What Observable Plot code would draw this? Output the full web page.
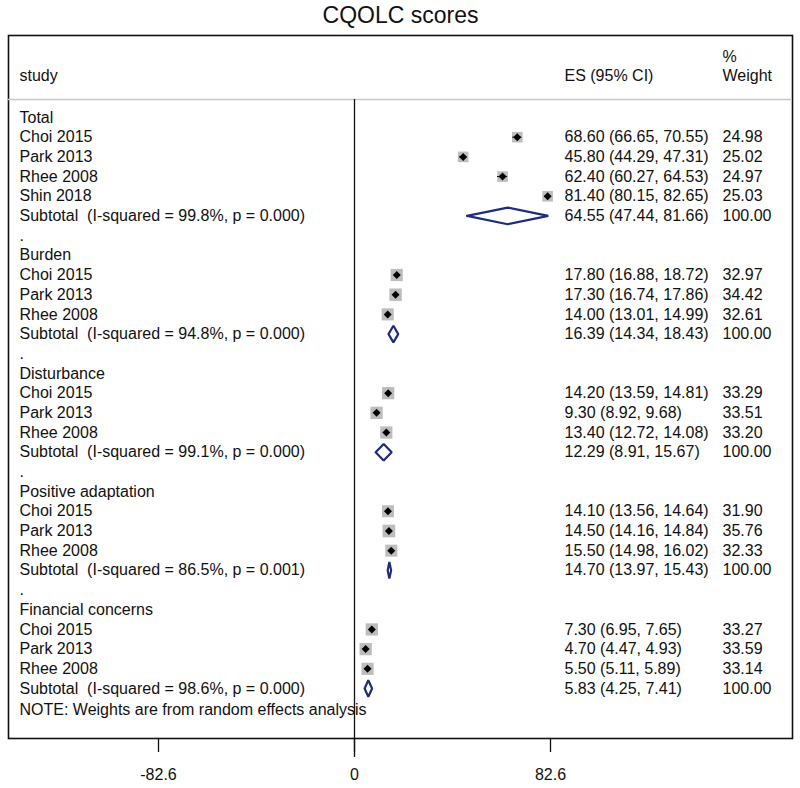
<!DOCTYPE html>
<html>
<head>
<meta charset="utf-8">
<script src="https://cdn.jsdelivr.net/npm/d3@7"></script>
<script src="https://cdn.jsdelivr.net/npm/@observablehq/plot@0.6"></script>
<style>
  html, body { margin: 0; padding: 0; background: #fff; }
  svg text { white-space: pre; }
</style>
</head>
<body>
<div id="chart"></div>
<script>
// ---- data ----
const outcomes = ["Total", "Burden", "Disturbance", "Positive adaptation", "Financial concerns"];
const studies = [
  ["Choi 2015", "Park 2013", "Rhee 2008", "Shin 2018"],
  ["Choi 2015", "Park 2013", "Rhee 2008"],
  ["Choi 2015", "Park 2013", "Rhee 2008"],
  ["Choi 2015", "Park 2013", "Rhee 2008"],
  ["Choi 2015", "Park 2013", "Rhee 2008"]
];
const es = [
  [68.60, 45.80, 62.40, 81.40],
  [17.80, 17.30, 14.00],
  [14.20, 9.30, 13.40],
  [14.10, 14.50, 15.50],
  [7.30, 4.70, 5.50]
];
const lo = [
  [66.65, 44.29, 60.27, 80.15],
  [16.88, 16.74, 13.01],
  [13.59, 8.92, 12.72],
  [13.56, 14.16, 14.98],
  [6.95, 4.47, 5.11]
];
const hi = [
  [70.55, 47.31, 64.53, 82.65],
  [18.72, 17.86, 14.99],
  [14.81, 9.68, 14.08],
  [14.64, 14.84, 16.02],
  [7.65, 4.93, 5.89]
];
const weight = [
  [24.98, 25.02, 24.97, 25.03],
  [32.97, 34.42, 32.61],
  [33.29, 33.51, 33.20],
  [31.90, 35.76, 32.33],
  [33.27, 33.59, 33.14]
];
const subES = [64.55, 16.39, 12.29, 14.70, 5.83];
const subLo = [47.44, 14.34, 8.91, 13.97, 4.25];
const subHi = [81.66, 18.43, 15.67, 15.43, 7.41];
const iSquared = [99.8, 94.8, 99.1, 86.5, 98.6];
const pValue = ["0.000", "0.000", "0.000", "0.001", "0.000"];
const xTicks = [-82.6, 0, 82.6];
const title = "CQOLC scores";
const note = "NOTE: Weights are from random effects analysis";

// ---- build rows ----
const labelRows = [], studyRows = [], subRows = [];
let r = 0;
outcomes.forEach((g, gi) => {
  labelRows.push({row: r++, label: g});
  studies[gi].forEach((s, si) => {
    const d = {row: r++, label: s, es: es[gi][si], lo: lo[gi][si], hi: hi[gi][si], w: weight[gi][si]};
    studyRows.push(d);
    labelRows.push({row: d.row, label: s});
  });
  const sub = {row: r++, g, es: subES[gi], lo: subLo[gi], hi: subHi[gi], w: 100,
    label: `Subtotal  (I-squared = ${iSquared[gi].toFixed(1)}%, p = ${pValue[gi]})`};
  subRows.push(sub);
  labelRows.push({row: sub.row, label: sub.label});
  if (gi < outcomes.length - 1) labelRows.push({row: r++, label: "."});
});
const noteRow = r;
const statRows = [...studyRows, ...subRows];

const dh = 0.42; // diamond half height in rows
const diamondPts = subRows.flatMap(d => [
  {g: d.g, x: d.lo, y: d.row},
  {g: d.g, x: d.es, y: d.row - dh},
  {g: d.g, x: d.hi, y: d.row},
  {g: d.g, x: d.es, y: d.row + dh},
  {g: d.g, x: d.lo, y: d.row}
]);

const font = "Liberation Sans, Arial, sans-serif";
const navy = "#1f2b7b";

const chart = Plot.plot({
  width: 800,
  height: 788,
  marginTop: 35,
  marginBottom: 50,
  marginLeft: 8,
  marginRight: 8,
  style: {fontFamily: font, fontSize: "16px", color: "#111", background: "#fff"},
  x: {domain: [-82.6, 82.6], range: [158, 550]},
  y: {domain: [0, 29], range: [117, 688], axis: null},
  r: {type: "sqrt", domain: [0, 33.3], range: [0, 6.9]},
  marks: [
    Plot.frame({stroke: "#111", strokeWidth: 1.6}),
    Plot.ruleY([-0.91], {stroke: "#c8c8c8", strokeWidth: 1.5}),
    Plot.ruleX([0], {stroke: "#111", strokeWidth: 1.3, insetTop: 64, insetBottom: -19}),
    Plot.axisX({ticks: xTicks, tickSize: 14, tickPadding: 16, tickFormat: d => d === 0 ? "0" : d.toFixed(1),
      label: null, fontSize: 16, strokeWidth: 1.3}),
    // headers
    Plot.text([title], {frameAnchor: "top", dy: -20, fontSize: 23, lineAnchor: "middle"}),
    Plot.text(["study"], {frameAnchor: "top-left", dx: 11, dy: 40, lineAnchor: "middle", textAnchor: "start"}),
    Plot.text(["ES (95% CI)"], {frameAnchor: "top-left", dx: 556, dy: 40, lineAnchor: "middle", textAnchor: "start"}),
    Plot.text(["%"], {frameAnchor: "top-left", dx: 714, dy: 21, lineAnchor: "middle", textAnchor: "start"}),
    Plot.text(["Weight"], {frameAnchor: "top-left", dx: 714, dy: 40, lineAnchor: "middle", textAnchor: "start"}),
    // labels
    Plot.text(labelRows, {y: "row", text: "label", frameAnchor: "left", dx: 11, textAnchor: "start"}),
    Plot.text([note], {y: () => noteRow, frameAnchor: "left", dx: 11, dy: 2, textAnchor: "start"}),
    Plot.text(statRows, {y: "row", text: d => `${d.es.toFixed(2)} (${d.lo.toFixed(2)}, ${d.hi.toFixed(2)})`,
      frameAnchor: "left", dx: 556, textAnchor: "start"}),
    Plot.text(statRows, {y: "row", text: d => d.w.toFixed(2), frameAnchor: "left", dx: 714, textAnchor: "start"}),
    // study markers
    Plot.dot(studyRows, {x: "es", y: "row", r: "w", symbol: "square", fill: "#bdbdbd"}),
    Plot.ruleY(studyRows, {y: "row", x1: "lo", x2: "hi", stroke: "#111", strokeWidth: 1}),
    Plot.dot(studyRows, {x: "es", y: "row", symbol: "diamond2", r: 3.6, fill: "#000"}),
    // subtotal diamonds
    Plot.line(diamondPts, {x: "x", y: "y", z: "g", stroke: navy, strokeWidth: 2.2, curve: "linear", strokeLinejoin: "miter"})
  ]
});
document.getElementById("chart").appendChild(chart);
</script>
</body>
</html>
